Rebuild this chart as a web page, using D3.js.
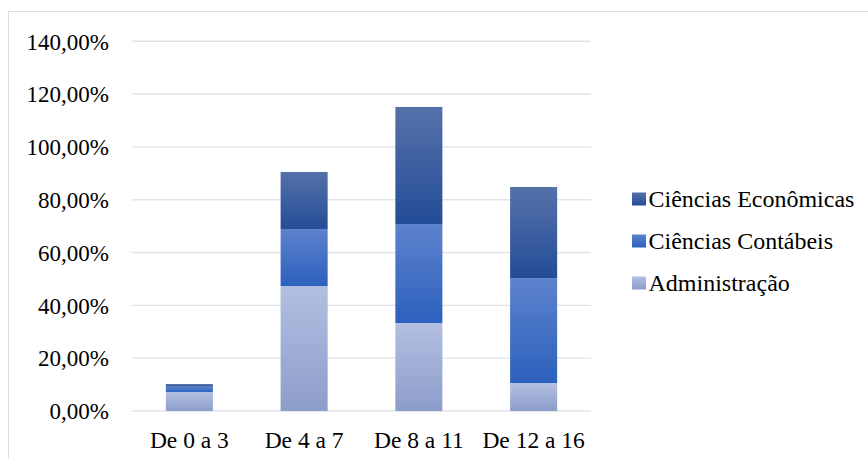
<!DOCTYPE html>
<html>
<head>
<meta charset="utf-8">
<script src="https://cdn.jsdelivr.net/npm/d3@7/dist/d3.min.js"></script>
<style>
  html, body { margin: 0; padding: 0; background: #fff; }
  svg { display: block; }
  text { font-family: "Liberation Serif", "Times New Roman", serif; fill: #000; }
</style>
</head>
<body>
<svg id="chart" width="868" height="459"></svg>
<script>
// Faixas de tempo (categorias do eixo X)
const categories = ["De 0 a 3", "De 4 a 7", "De 8 a 11", "De 12 a 16"];

// Percentuais por curso, em %
const administracao = [7.2, 47.3, 33.3, 10.6];
const contabeis     = [2.0, 21.6, 37.5, 39.7];
const economicas    = [1.0, 21.6, 44.3, 34.5];

const seriesNames = ["Administração", "Ciências Contábeis", "Ciências Econômicas"];
const yTicks = [0, 20, 40, 60, 80, 100, 120, 140];

// Gradientes verticais de cada série: [topo, base]
const gradStops = {
  "Administração":       ["#b3bfe2", "#8d9dca"],
  "Ciências Contábeis":  ["#5d82cd", "#2c61bd"],
  "Ciências Econômicas": ["#5671aa", "#234d97"]
};

const svg = d3.select("#chart");
const W = 868, H = 459;
const plot = { left: 132, right: 591, top: 41.2, bottom: 411 };

const rows = categories.map((c, i) => ({
  cat: c,
  "Administração": administracao[i],
  "Ciências Contábeis": contabeis[i],
  "Ciências Econômicas": economicas[i]
}));
const stacked = d3.stack().keys(seriesNames)(rows);

const x = d3.scaleBand().domain(categories)
  .range([plot.left, plot.right]).paddingInner(0.59).paddingOuter(0.295);
const y = d3.scaleLinear().domain([0, 140]).range([plot.bottom, plot.top]);

// Gradientes
const defs = svg.append("defs");
seriesNames.forEach((name, i) => {
  const g = defs.append("linearGradient")
    .attr("id", "grad" + i).attr("x1", 0).attr("y1", 0).attr("x2", 0).attr("y2", 1);
  g.append("stop").attr("offset", "0%").attr("stop-color", gradStops[name][0]);
  g.append("stop").attr("offset", "100%").attr("stop-color", gradStops[name][1]);
});

// Moldura da área do gráfico
svg.append("rect")
  .attr("x", 8.5).attr("y", 11.5).attr("width", W + 10).attr("height", H + 10)
  .attr("fill", "none").attr("stroke", "#d9dee7").attr("stroke-width", 1);

// Linhas de grade
svg.append("g").selectAll("line").data(yTicks).join("line")
  .attr("x1", plot.left).attr("x2", plot.right)
  .attr("y1", d => y(d)).attr("y2", d => y(d))
  .attr("stroke", "#e0e3ea").attr("stroke-width", 1.4);

// Eixo Y
const fmt = d => d3.format(".2f")(d).replace(".", ",") + "%";
const yAxis = svg.append("g")
  .attr("transform", `translate(${plot.left - 23},0)`)
  .call(d3.axisLeft(y).tickValues(yTicks).tickFormat(fmt).tickSize(0).tickPadding(0));
yAxis.select(".domain").remove();
yAxis.selectAll("text")
  .style("font-family", '"Liberation Serif", serif')
  .style("font-size", "23px").attr("fill", "#000").attr("dy", "0.34em");

// Eixo X
const xAxis = svg.append("g")
  .attr("transform", `translate(0,${plot.bottom})`)
  .call(d3.axisBottom(x).tickSize(0).tickPadding(0));
xAxis.select(".domain").remove();
xAxis.selectAll("text")
  .style("font-family", '"Liberation Serif", serif')
  .style("font-size", "23.5px").attr("fill", "#000").attr("dy", "0").attr("y", 37);

// Barras empilhadas
svg.append("g").selectAll("g").data(stacked).join("g")
  .attr("fill", (d, i) => `url(#grad${i})`)
  .selectAll("rect").data(d => d).join("rect")
  .attr("x", d => x(d.data.cat))
  .attr("width", x.bandwidth())
  .attr("y", d => y(d[1]))
  .attr("height", d => y(d[0]) - y(d[1]));

// Legenda (ordem inversa das séries)
const legendItems = seriesNames.slice().reverse();
const lg = svg.append("g").attr("transform", "translate(632,0)");
const legRow = lg.selectAll("g").data(legendItems).join("g")
  .attr("transform", (d, i) => `translate(0,${199 + i * 42})`);
legRow.append("rect")
  .attr("x", 0).attr("y", -6.5).attr("width", 14).attr("height", 13)
  .attr("fill", d => `url(#grad${seriesNames.indexOf(d)})`);
legRow.append("text")
  .attr("x", 16.5).attr("y", 8)
  .style("font-family", '"Liberation Serif", serif')
  .style("font-size", "24px")
  .text(d => d);
</script>
</body>
</html>
